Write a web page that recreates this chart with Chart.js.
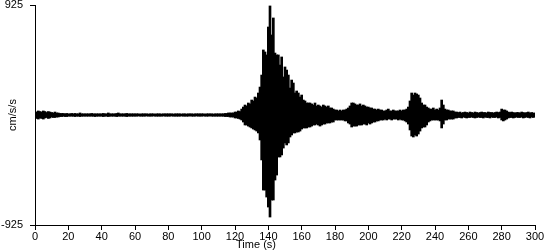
<!DOCTYPE html>
<html>
<head>
<meta charset="utf-8">
<title>Acelerograma</title>
<script src="https://cdn.jsdelivr.net/npm/chart.js@4.4.0/dist/chart.umd.min.js"></script>
<style>
    html, body { margin: 0; padding: 0; background: #ffffff; }
    #wrap { width: 550px; height: 250px; }
</style>
</head>
<body>
<div id="wrap"><canvas id="accelChart"></canvas></div>
<script>
// segundos entre muestras
const sampleStep = 1;

// máximo de aceleración (cm/s/s) en cada segundo
const accelMax = [
    29, 25, 34, 29, 25, 34, 29, 21, 29, 25,               // 0
    21, 17, 25, 17, 17, 13, 13, 13, 10, 13,               // 10
    10, 10, 13, 10, 13, 10, 10, 17, 10, 10,               // 20
    10, 10, 10, 10, 13, 10, 10, 10, 10, 10,               // 30
    10, 13, 10, 10, 17, 10, 10, 10, 10, 13,               // 40
    17, 10, 10, 10, 10, 13, 10, 10, 10, 10,               // 50
    10, 10, 10, 8, 10, 10, 10, 10, 8, 10,                 // 60
    10, 10, 8, 10, 10, 10, 8, 10, 10, 10,                 // 70
    10, 10, 10, 8, 10, 10, 10, 10, 8, 10,                 // 80
    10, 8, 10, 10, 10, 8, 10, 10, 10, 10,                 // 90
    10, 10, 8, 10, 10, 10, 10, 8, 10, 10,                 // 100
    10, 10, 10, 10, 13, 13, 17, 17, 17, 17,               // 110
    25, 25, 34, 29, 50, 67, 84, 76, 101, 93,              // 120
    126, 118, 151, 143, 185, 235, 336, 547, 530, 505,     // 130
    740, 917, 673, 816, 521, 505, 505, 420, 488, 320,     // 140
    404, 378, 336, 227, 294, 269, 185, 202, 185, 151,     // 150
    168, 126, 118, 101, 101, 101, 93, 84, 101, 76,        // 160
    84, 76, 67, 84, 76, 67, 76, 59, 59, 50,               // 170
    42, 42, 34, 42, 34, 42, 42, 50, 59, 76,               // 180
    101, 101, 93, 84, 84, 93, 76, 84, 76, 67,             // 190
    67, 59, 59, 50, 50, 42, 50, 42, 42, 34,               // 200
    34, 42, 50, 34, 34, 42, 34, 34, 34, 42,               // 210
    34, 42, 42, 50, 67, 118, 185, 168, 185, 177,          // 220
    168, 143, 101, 84, 84, 67, 59, 50, 50, 59,            // 230
    42, 50, 42, 59, 126, 84, 50, 42, 42, 34,              // 240
    34, 34, 25, 25, 21, 25, 17, 21, 25, 21,               // 250
    17, 25, 21, 17, 25, 21, 17, 21, 25, 21,               // 260
    21, 17, 25, 21, 21, 17, 21, 25, 21, 25,               // 270
    50, 42, 42, 34, 25, 21, 25, 21, 17, 21,               // 280
    21, 17, 25, 21, 17, 21, 25, 17, 21, 17,               // 290
    17                                                    // 300
];

// mínimo de aceleración (cm/s/s) en cada segundo
const accelMin = [
    -25, -29, -34, -25, -29, -34, -25, -21, -29, -25,     // 0
    -17, -21, -21, -17, -17, -13, -13, -10, -13, -13,     // 10
    -10, -10, -10, -10, -13, -10, -10, -13, -10, -10,     // 20
    -10, -10, -10, -10, -10, -10, -13, -10, -10, -10,     // 30
    -10, -13, -10, -10, -13, -10, -10, -10, -10, -13,     // 40
    -10, -10, -10, -10, -10, -13, -10, -10, -10, -10,     // 50
    -10, -10, -8, -10, -10, -10, -10, -8, -10, -10,       // 60
    -10, -8, -10, -10, -10, -10, -10, -8, -10, -10,       // 70
    -10, -10, -8, -10, -10, -10, -10, -10, -8, -10,       // 80
    -10, -10, -10, -8, -10, -10, -10, -8, -10, -10,       // 90
    -10, -8, -10, -10, -10, -8, -10, -10, -10, -10,       // 100
    -10, -10, -10, -10, -13, -13, -13, -17, -17, -17,     // 110
    -25, -25, -29, -34, -42, -59, -84, -84, -93, -101,    // 120
    -109, -118, -126, -135, -151, -210, -378, -631, -631, -690, // 130
    -774, -858, -715, -715, -547, -505, -353, -353, -336, -278, // 140
    -235, -252, -235, -185, -168, -151, -151, -143, -143, -135, // 150
    -118, -109, -109, -109, -101, -101, -93, -84, -84, -76, // 160
    -84, -93, -84, -76, -76, -67, -67, -67, -59, -59,     // 170
    -42, -42, -42, -42, -42, -42, -50, -50, -67, -76,     // 180
    -101, -93, -93, -93, -84, -84, -84, -76, -76, -84,    // 190
    -67, -76, -67, -59, -59, -50, -50, -42, -42, -42,     // 200
    -34, -42, -34, -34, -42, -34, -34, -34, -42, -34,     // 210
    -42, -42, -50, -59, -76, -126, -177, -185, -168, -177, // 220
    -160, -135, -109, -101, -101, -84, -59, -50, -42, -42, // 230
    -42, -42, -42, -50, -109, -76, -42, -42, -34, -34,    // 240
    -34, -34, -25, -25, -21, -21, -25, -17, -21, -25,     // 250
    -21, -21, -17, -21, -25, -21, -17, -21, -21, -25,     // 260
    -17, -21, -21, -25, -17, -21, -21, -17, -25, -21,     // 270
    -42, -50, -42, -34, -25, -21, -21, -25, -21, -17,     // 280
    -21, -21, -17, -25, -21, -17, -21, -25, -17, -21,     // 290
    -17                                                   // 300
];

const xTicks = [0, 20, 40, 60, 80, 100, 120, 140, 160, 180, 200, 220, 240, 260, 280, 300];
const yTicks = [-925, 925];
const xTitle = 'Time (s)';
const yTitle = 'cm/s/s';

document.addEventListener('DOMContentLoaded', () => {
    const ctx = document.getElementById('accelChart').getContext('2d');
    const fontFamily = '"Liberation Sans", Arial, sans-serif';

    // título del eje x, algo corrido a la izquierda como en el original
    const xTitlePlugin = {
        id: 'xTitlePlugin',
        afterDraw(chart) {
            const c = chart.ctx;
            c.save();
            c.font = '11px ' + fontFamily;
            c.fillStyle = '#000000';
            c.textAlign = 'center';
            c.textBaseline = 'middle';
            c.fillText(xTitle, 256, 245);
            c.restore();
        }
    };

    new Chart(ctx, {
        type: 'bar',
        data: {
            datasets: [{
                label: 'Aceleración',
                data: accelMax.map((v, i) => ({ x: i * sampleStep, y: [accelMin[i], v] })),
                backgroundColor: '#000000',
                borderWidth: 0,
                barThickness: 2
            }]
        },
        options: {
            responsive: true,
            maintainAspectRatio: false,
            animation: false,
            layout: { padding: { top: 5, right: 15, left: 0, bottom: 0 } },
            scales: {
                x: {
                    type: 'linear',
                    min: 0,
                    max: 300,
                    offset: false,
                    afterBuildTicks: axis => { axis.ticks = xTicks.map(v => ({ value: v })); },
                    afterFit: scale => { scale.height = 25; },
                    grid: { offset: false, drawOnChartArea: false, drawTicks: true, tickLength: 5, color: '#000000' },
                    border: { display: true, color: '#000000', width: 1 },
                    ticks: {
                        color: '#000000',
                        padding: 0,
                        maxRotation: 0,
                        autoSkip: false,
                        font: { family: fontFamily, size: 11 }
                    }
                },
                y: {
                    min: -925,
                    max: 925,
                    afterBuildTicks: axis => { axis.ticks = yTicks.map(v => ({ value: v })); },
                    afterFit: scale => {
                        scale.width = 35;
                        scale.paddingTop = 0;
                        scale.paddingBottom = 0;
                    },
                    grid: { drawOnChartArea: false, drawTicks: true, tickLength: 5, color: '#000000' },
                    border: { display: true, color: '#000000', width: 1 },
                    ticks: {
                        color: '#000000',
                        padding: 7,
                        font: { family: fontFamily, size: 11 }
                    },
                    title: {
                        display: true,
                        text: yTitle,
                        color: '#000000',
                        padding: { top: 6, bottom: 0 },
                        font: { family: fontFamily, size: 11 }
                    }
                }
            },
            plugins: {
                legend: { display: false },
                tooltip: { enabled: false }
            }
        },
        plugins: [xTitlePlugin]
    });
});
</script>
</body>
</html>
